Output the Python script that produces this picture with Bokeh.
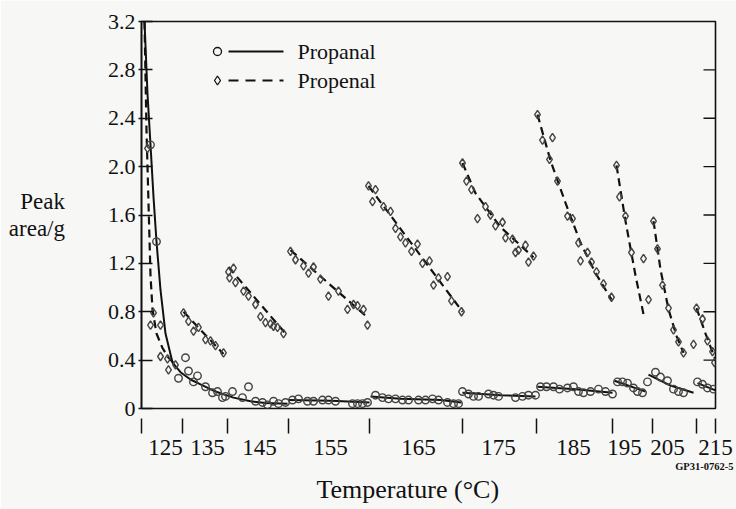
from bokeh.plotting import figure
from bokeh.models import Range1d, LinearAxis, FixedTicker, Label, Title
from bokeh.embed import file_html
from bokeh.resources import INLINE

# ---- data (x = elapsed heating time, arbitrary units; y = peak area per gram) ----
temp_labels = ["125", "135", "145", "155", "165", "175", "185", "195", "205", "215"]
temp_label_pos = [24, 66, 118, 189, 277, 357, 432, 483, 526, 574]
temp_boundaries = [0, 41, 86, 147, 228, 321, 395, 471, 511, 555, 574]

ytick_vals = [0, 0.4, 0.8, 1.2, 1.6, 2.0, 2.4, 2.8, 3.2]
ytick_labels = ["0", "0.4", "0.8", "1.2", "1.6", "2.0", "2.4", "2.8", "3.2"]

propanal_pts = [
    (9, 2.18), (15, 1.38), (37, 0.25), (44, 0.42), (47, 0.31), (52, 0.22), (56, 0.27),
    (64, 0.18), (71, 0.13), (76, 0.14), (81, 0.09), (84, 0.10), (91, 0.14), (101, 0.09),
    (107, 0.18), (114, 0.06), (121, 0.05), (126, 0.03), (132, 0.06), (137, 0.04), (144, 0.05),
    (151, 0.07), (157, 0.08), (166, 0.06), (172, 0.06), (181, 0.07), (187, 0.07), (194, 0.06),
    (211, 0.04), (216, 0.04), (221, 0.04), (226, 0.05),
    (234, 0.11), (241, 0.09), (247, 0.08), (254, 0.08), (261, 0.07), (267, 0.07), (277, 0.07),
    (284, 0.07), (291, 0.08), (297, 0.07), (306, 0.05), (312, 0.04), (317, 0.04),
    (321, 0.14), (327, 0.12), (332, 0.10), (337, 0.10), (347, 0.12), (352, 0.11), (357, 0.10),
    (374, 0.09), (381, 0.10), (387, 0.11), (394, 0.11),
    (399, 0.18), (405, 0.18), (412, 0.18), (418, 0.16), (426, 0.17), (432, 0.18), (437, 0.14),
    (442, 0.13), (449, 0.14), (457, 0.16), (464, 0.14), (471, 0.12),
    (476, 0.22), (481, 0.22), (486, 0.21), (492, 0.17), (496, 0.14), (501, 0.13), (506, 0.22),
    (514, 0.30), (519, 0.26), (526, 0.23), (532, 0.16), (537, 0.14), (542, 0.13),
    (556, 0.22), (561, 0.20), (566, 0.17), (572, 0.16),
]

propenal_pts = [
    (6, 2.15), (9, 0.69), (12, 0.79), (19, 0.69), (19, 0.43), (26, 0.41), (27, 0.32), (34, 0.36),
    (42, 0.79), (47, 0.72), (52, 0.64), (57, 0.67), (64, 0.57), (69, 0.56), (74, 0.52), (82, 0.46),
    (87, 1.13), (92, 1.16), (88, 1.08), (94, 1.04), (102, 0.97), (107, 0.93), (114, 0.86),
    (119, 0.76), (124, 0.71), (129, 0.70), (132, 0.68), (136, 0.67), (142, 0.62),
    (149, 1.30), (154, 1.23), (162, 1.18), (167, 1.12), (172, 1.17), (179, 1.07), (187, 0.93),
    (197, 0.97), (206, 0.82), (212, 0.86), (216, 0.85), (222, 0.82), (226, 0.69),
    (227, 1.84), (234, 1.81), (231, 1.71), (242, 1.67), (249, 1.63), (254, 1.49), (259, 1.42),
    (264, 1.37), (270, 1.30), (276, 1.36), (281, 1.20), (288, 1.22), (292, 1.02), (297, 1.08),
    (306, 1.09), (310, 0.89), (320, 0.80),
    (321, 2.03), (325, 1.88), (330, 1.81), (336, 1.57), (344, 1.67), (349, 1.60), (354, 1.51),
    (361, 1.54), (364, 1.41), (371, 1.40), (374, 1.29), (377, 1.31), (384, 1.35), (387, 1.21),
    (392, 1.26),
    (396, 2.43), (401, 2.22), (411, 2.24), (408, 2.06), (416, 1.88), (426, 1.59), (431, 1.57),
    (437, 1.37), (439, 1.22), (446, 1.29), (450, 1.21), (455, 1.13), (462, 1.03), (470, 0.92),
    (475, 2.01), (478, 1.75), (484, 1.59), (490, 1.29), (502, 1.24), (507, 0.90),
    (512, 1.55), (516, 1.32), (521, 1.02), (527, 0.83), (532, 0.65), (537, 0.55), (542, 0.46),
    (552, 0.53),
    (555, 0.83), (561, 0.74), (566, 0.56), (571, 0.47), (573, 0.38),
]

# fitted curves, one list per temperature step
propanal_fit = [
    [(3, 3.2), (6, 2.6), (9, 2.18), (12, 1.75), (15, 1.38), (19, 0.98), (24, 0.62), (31, 0.38),
     (39, 0.30), (49, 0.24), (59, 0.20), (74, 0.14), (92, 0.09), (109, 0.06), (124, 0.045), (146, 0.04)],
    [(147, 0.07), (190, 0.065), (228, 0.05)],
    [(229, 0.10), (259, 0.08), (299, 0.07), (320, 0.05)],
    [(321, 0.13), (359, 0.11), (394, 0.10)],
    [(396, 0.18), (434, 0.16), (471, 0.13)],
    [(473, 0.23), (504, 0.14)],
    [(507, 0.28), (529, 0.19), (552, 0.13)],
    [(556, 0.21), (574, 0.15)],
]

propenal_fit = [
    [(3, 3.2), (5, 2.3), (7, 1.7), (9, 1.1), (11, 0.82), (15, 0.62), (21, 0.50), (27, 0.42), (33, 0.37)],
    [(42, 0.80), (82, 0.45)],
    [(87, 1.17), (144, 0.62)],
    [(149, 1.31), (225, 0.76)],
    [(227, 1.84), (321, 0.80)],
    [(321, 2.03), (334, 1.78), (359, 1.50), (392, 1.25)],
    [(396, 2.43), (409, 2.05), (424, 1.70), (439, 1.37), (454, 1.12), (470, 0.90)],
    [(475, 2.01), (484, 1.55), (494, 1.10), (502, 0.78)],
    [(512, 1.55), (519, 1.15), (527, 0.82), (535, 0.60), (542, 0.46)],
    [(555, 0.83), (564, 0.62), (575, 0.38)],
]

# ---- styling ----
FONT = "Liberation Serif"
BG = "#f7f7f6"
INK = "#111111"
MARK = "#444444"

p = figure(width=736, height=509, output_backend="svg", toolbar_location=None,
           x_range=Range1d(0, 574), y_range=Range1d(0, 3.2),
           x_axis_location=None, y_axis_location=None,
           min_border_left=141, min_border_right=21, min_border_top=21, min_border_bottom=101)
p.background_fill_color = BG
p.border_fill_color = BG
p.outline_line_color = INK
p.outline_line_width = 1.6
p.xgrid.visible = False
p.ygrid.visible = False

p.extra_x_ranges = {"px": Range1d(141, 715)}
p.extra_y_ranges = {"px": Range1d(408, 21)}

# left axis
yax = LinearAxis(ticker=FixedTicker(ticks=ytick_vals),
                 major_label_overrides=dict(zip(ytick_vals, ytick_labels)),
                 major_tick_in=11, major_tick_out=3, major_label_standoff=3,
                 minor_tick_line_color=None, axis_line_width=1.6, axis_line_color=INK,
                 major_tick_line_width=1.4, major_tick_line_color=INK,
                 major_label_text_font=FONT, major_label_text_font_size="22px",
                 major_label_text_color=INK,
                 axis_label="Peak\narea/g", axis_label_orientation="horizontal",
                 axis_label_standoff=40, axis_label_text_font=FONT,
                 axis_label_text_font_size="23px", axis_label_text_font_style="normal",
                 axis_label_text_line_height=1.05, axis_label_text_color=INK)
p.add_layout(yax, "left")

# inward tick marks on the right frame edge, one per inner y tick value
right_ticks = ytick_vals[1:-1]
p.segment(x0=[703] * len(right_ticks), x1=[715] * len(right_ticks),
          y0=right_ticks, y1=right_ticks, x_range_name="px",
          line_color=INK, line_width=1.4)

# bottom axis: labels in each temperature step, boundary ticks detached below
xax = LinearAxis(ticker=FixedTicker(ticks=temp_label_pos, minor_ticks=temp_boundaries),
                 major_label_overrides=dict(zip(temp_label_pos, temp_labels)),
                 major_tick_line_color=None, major_tick_in=0, major_tick_out=0,
                 minor_tick_in=-10, minor_tick_out=25, minor_tick_line_width=1.5,
                 minor_tick_line_color=INK, axis_line_color=None,
                 major_label_standoff=6, major_label_text_font=FONT,
                 major_label_text_font_size="23px", major_label_text_color=INK)
p.add_layout(xax, "below")

p.add_layout(Title(text="GP31-0762-5", align="right", offset=-18, standoff=2,
                   text_font=FONT, text_font_size="10.5px", text_font_style="bold",
                   text_color=INK), "below")
p.add_layout(Title(text="Temperature (°C)", align="left", offset=175, standoff=0,
                   text_font=FONT, text_font_size="26px", text_font_style="normal",
                   text_color=INK), "below")

# fitted lines
p.multi_line(xs=[[pt[0] for pt in seg] for seg in propanal_fit],
             ys=[[pt[1] for pt in seg] for seg in propanal_fit],
             line_color=INK, line_width=2.0)
p.multi_line(xs=[[pt[0] for pt in seg] for seg in propenal_fit],
             ys=[[pt[1] for pt in seg] for seg in propenal_fit],
             line_color=INK, line_width=2.2, line_dash="8 5")

# measured points
p.scatter([pt[0] for pt in propanal_pts], [pt[1] for pt in propanal_pts], marker="circle",
          size=7.5, fill_color=None, line_color=MARK, line_width=1.4)
p.scatter([pt[0] for pt in propenal_pts], [pt[1] for pt in propenal_pts], marker="diamond",
          size=8.5, fill_color=None, line_color=MARK, line_width=1.4)

# legend (drawn in pixel space of the frame)
p.scatter([217], [51], x_range_name="px", y_range_name="px", marker="circle", size=8,
          fill_color=None, line_color=INK, line_width=1.3)
p.line([228, 283], [51, 51], x_range_name="px", y_range_name="px", line_color=INK, line_width=1.8)
p.scatter([217], [80], x_range_name="px", y_range_name="px", marker="diamond", size=9,
          fill_color=None, line_color=INK, line_width=1.3)
p.line([228, 283], [80, 80], x_range_name="px", y_range_name="px", line_color=INK,
       line_width=1.8, line_dash="10 7")

for ty, txt in [(51, "Propanal"), (80, "Propenal")]:
    p.add_layout(Label(x=297, y=ty, x_range_name="px", y_range_name="px", text=txt,
                       text_font=FONT, text_font_size="22px", text_align="left",
                       text_baseline="middle", text_color=INK))

open("out.html", "w").write(file_html(p, INLINE))
